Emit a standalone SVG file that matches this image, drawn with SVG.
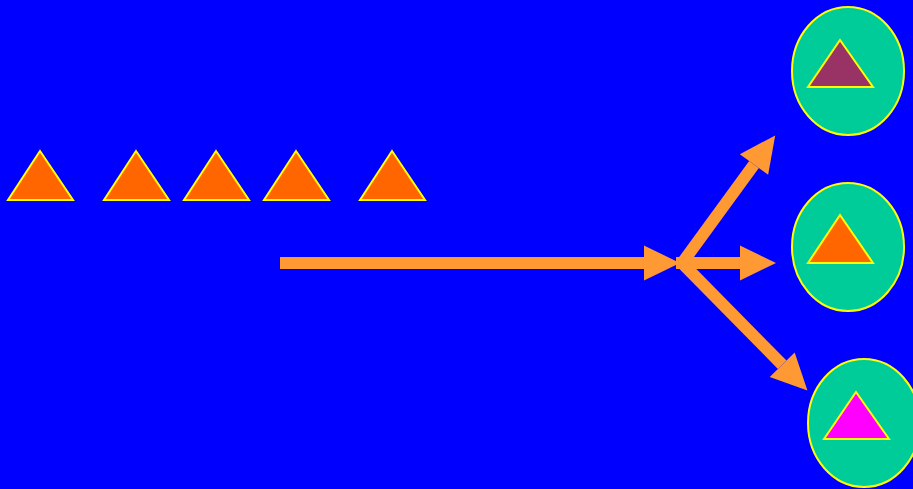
<svg xmlns="http://www.w3.org/2000/svg" width="913" height="489" viewBox="0 0 913 489">
<style>
.tri{fill:#FF6600;stroke:#FFFF00;stroke-width:2}
.ell{fill:#00CC99;stroke:#FFFF00;stroke-width:2}
.arr{stroke:#FF9933;stroke-width:12;fill:none;marker-end:url(#head)}
</style>
<defs>
<marker id="head" markerUnits="userSpaceOnUse" markerWidth="40" markerHeight="40" refX="0" refY="0" orient="auto" overflow="visible">
<path d="M0,-17.5 L36,0 L0,17.5 z" fill="#FF9933"/>
</marker>
</defs>
<rect width="913" height="489" fill="#0000FF"/>
<g id="t1"><polygon class="tri" points="40,151 73,200 8,200"/></g>
<g id="t2"><polygon class="tri" points="136,151 169,200 104,200"/></g>
<g id="t3"><polygon class="tri" points="216,151 249,200 184,200"/></g>
<g id="t4"><polygon class="tri" points="296,151 329,200 264,200"/></g>
<g id="t5"><polygon class="tri" points="392,151 425,200 360,200"/></g>
<g id="c1"><ellipse class="ell" cx="848" cy="71" rx="56" ry="64"/><polygon class="tri" points="840,40 873,87 808,87" style="fill:#993366"/></g>
<g id="c2"><ellipse class="ell" cx="848" cy="247" rx="56" ry="64"/><polygon class="tri" points="840,215 873,263 808,263"/></g>
<g id="c3"><ellipse class="ell" cx="864" cy="423" rx="56" ry="64"/><polygon class="tri" points="856,392 889,439 824,439" style="fill:#FF00FF"/></g>
<g id="connectors">
<line class="arr" x1="280" y1="263" x2="644" y2="263"/>
<line class="arr" x1="676" y1="263" x2="740" y2="263"/>
<line class="arr" x1="680" y1="266" x2="754" y2="164.5"/>
<line class="arr" x1="680" y1="261" x2="782.2" y2="364.8"/>
</g>
</svg>
